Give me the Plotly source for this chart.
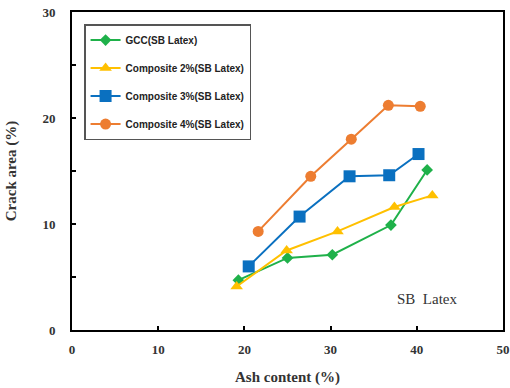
import plotly.graph_objects as go

gcc_x = [19.3, 25.0, 30.2, 37.0, 41.2]
gcc_y = [4.7, 6.8, 7.1, 9.9, 15.1]
c2_x = [19.1, 24.9, 30.8, 37.4, 41.8]
c2_y = [4.1, 7.5, 9.3, 11.6, 12.7]
c3_x = [20.5, 26.4, 32.2, 36.8, 40.2]
c3_y = [6.0, 10.7, 14.5, 14.6, 16.6]
c4_x = [21.6, 27.7, 32.4, 36.7, 40.4]
c4_y = [9.3, 14.5, 18.0, 21.2, 21.1]

names = ["GCC(SB Latex)", "Composite 2%(SB Latex)", "Composite 3%(SB Latex)", "Composite 4%(SB Latex)"]
colors = ["#1fb14a", "#ffc000", "#0a70c0", "#ed7d31"]
symbols = ["diamond", "triangle-up", "square", "circle"]
sizes = [9, 11, 12, 11]
xs = [gcc_x, c2_x, c3_x, c4_x]
ys = [gcc_y, c2_y, c3_y, c4_y]

fig = go.Figure()
for i in range(4):
    fig.add_trace(go.Scatter(
        x=xs[i], y=ys[i], name=names[i], mode="lines+markers",
        line=dict(color=colors[i], width=2),
        marker=dict(symbol=symbols[i], size=sizes[i], color=colors[i]),
        legendgroup=str(i),
    ))

tickfont = dict(family="Liberation Serif", size=13, color="#333333", weight="bold")
fig.update_layout(
    width=510, height=388,
    margin=dict(l=72, r=7, t=12, b=58),
    paper_bgcolor="white", plot_bgcolor="white",
    showlegend=True,
    legend=dict(
        x=0.028, y=0.962, xanchor="left", yanchor="top",
        bordercolor="#555555", borderwidth=1.5, bgcolor="white",
        font=dict(family="Liberation Sans", size=10, color="#222222", weight="bold"),
        traceorder="grouped", tracegroupgap=9, itemwidth=30,
    ),
    xaxis=dict(
        range=[0, 50], dtick=10, showgrid=False, zeroline=False, automargin=False,
        showline=True, linecolor="black", linewidth=2, mirror=True,
        ticks="inside", ticklen=4, tickwidth=2, tickcolor="black",
        tickfont=tickfont, ticklabelstandoff=6,
        title=dict(text="Ash content (%)", font=dict(family="Liberation Serif", size=15, color="#333333", weight="bold"), standoff=16),
    ),
    yaxis=dict(
        range=[0, 30], dtick=10, showgrid=False, zeroline=False, automargin=False,
        showline=True, linecolor="black", linewidth=2, mirror=True,
        ticks="inside", ticklen=4, tickwidth=2, tickcolor="black",
        minor=dict(dtick=5, ticks="inside", ticklen=4, tickwidth=1.5, tickcolor="black"),
        tickfont=tickfont, ticklabelstandoff=12,
        title=dict(text="Crack area (%)", font=dict(family="Liberation Serif", size=15, color="#333333", weight="bold"), standoff=22),
    ),
    annotations=[dict(
        x=41.2, y=2.9, xref="x", yref="y", text="SB  Latex", showarrow=False,
        font=dict(family="Liberation Serif", size=15, color="#333333"),
    )],
)
fig.write_html("out.html")
